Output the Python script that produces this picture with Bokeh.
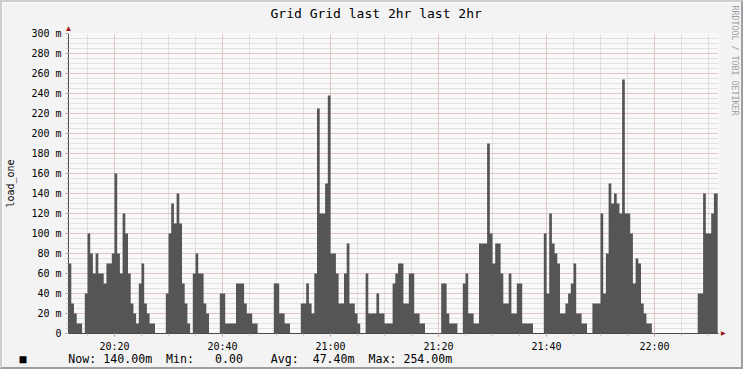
from bokeh.plotting import figure
from bokeh.models import Range1d, FixedTicker, Title
from bokeh.embed import file_html
from bokeh.resources import INLINE

# ---- data: load_one (milli-load), step starts in minutes after 20:00 ----
step_start = [
    11.5, 12.0, 12.5, 13.0, 14.0, 14.5, 15.0, 15.5, 16.0, 16.5, 17.0, 18.0, 18.5, 19.5,
    20.0, 20.5, 21.0, 21.5, 22.0, 22.5, 23.0, 23.5, 24.0, 24.5, 25.0, 25.5, 26.0, 26.5, 27.5,
    29.5, 30.0, 30.5, 31.0, 31.5, 32.0, 32.5, 33.0, 33.5, 34.0, 34.5, 35.0, 35.5, 36.5, 37.0, 37.5,
    39.5, 40.5, 42.5, 44.0, 44.5, 45.5, 46.5,
    49.5, 50.5, 51.5, 52.5,
    54.5, 55.5, 56.0, 56.5, 57.0, 57.5, 58.0, 59.0, 59.5, 60.0, 61.0, 61.5, 62.5, 63.0, 63.5,
    64.5, 65.0, 65.5,
    66.5, 67.0, 68.5, 69.0, 70.0, 71.5, 72.0, 72.5, 73.5, 74.5, 75.5, 76.5, 77.5,
    80.5, 81.5, 82.0, 83.5,
    84.5, 85.0, 85.5, 86.5, 87.5, 89.0, 89.5, 90.0, 90.5, 91.5, 92.0, 93.0, 93.5, 94.5, 95.5, 97.5,
    99.5, 100.0, 100.5, 101.0, 101.5, 102.0, 102.5, 103.5, 104.0, 104.5, 105.0, 105.5, 106.5, 107.5,
    108.5, 110.0, 110.5, 111.0, 111.5, 112.0, 112.5, 113.0, 113.5, 114.0, 114.5, 115.5, 116.0,
    116.5, 117.0, 117.5, 118.0, 118.5, 119.5,
    128.0, 129.0, 129.5, 130.5, 131.0,
]
load_m = [
    70, 30, 20, 10, 0, 40, 100, 80, 60, 80, 60, 50, 70, 80,
    160, 80, 60, 120, 100, 60, 30, 20, 10, 50, 70, 30, 20, 10, 0,
    40, 100, 130, 110, 140, 110, 50, 30, 10, 0, 60, 80, 60, 30, 20, 0,
    40, 10, 50, 30, 20, 10, 0,
    50, 20, 10, 0,
    30, 50, 30, 20, 60, 225, 120, 150, 238, 80, 60, 30, 60, 90, 30,
    20, 10, 0,
    60, 20, 40, 20, 10, 50, 60, 70, 30, 60, 20, 10, 0,
    50, 20, 10, 0,
    50, 60, 20, 10, 90, 190, 100, 70, 90, 60, 30, 60, 20, 50, 10, 0,
    100, 40, 120, 90, 80, 70, 20, 30, 40, 50, 70, 20, 10, 0,
    30, 120, 40, 80, 150, 130, 140, 130, 120, 254, 120, 100, 50,
    75, 70, 30, 20, 10, 0,
    40, 140, 100, 120, 140,
]
end_minute = 131.7

x_tick_minutes = [20, 40, 60, 80, 100, 120]
x_tick_labels = ["20:20", "20:40", "21:00", "21:20", "21:40", "22:00"]
x_minor_minutes = list(range(15, 131, 5))
y_tick_values = list(range(0, 301, 20))
y_tick_labels = ["0"] + [f"{v} m" for v in range(20, 301, 20)]
y_minor_values = list(range(0, 301, 5))

title_text = "Grid Grid last 2hr last 2hr"
y_label = "load_one"
legend_parts = ["■", "", "", "", "", "", "Now:", "140.00m", "", "Min:", "", "", "0.00", "", "", "",
                "Avg:", "", "47.40m", "", "Max:", "254.00m"]
watermark = "RRDTOOL / TOBI OETIKER"
NBSP = "\u00a0"
legend_text = NBSP.join(legend_parts)

# ---- layout ----
W, H = 743, 369           # canvas; a 2px CSS frame surrounds it -> 747 x 373
FL, FR, FT, FB = 65, 716, 31, 331
X0, X1 = 11.48, 131.85
MONO = "DejaVu Sans Mono"
BG = "#F3F3F3"

p = figure(width=W, height=H, output_backend="svg", toolbar_location=None,
           x_range=Range1d(X0, X1), y_range=Range1d(0, 300),
           min_border_left=FL, min_border_right=W - FR,
           min_border_top=FT, min_border_bottom=H - FB)
p.styles = {"border-top": "2px solid #CFCFCF", "border-left": "2px solid #CFCFCF",
            "border-bottom": "2px solid #9E9E9E", "border-right": "2px solid #9E9E9E"}
p.background_fill_color = "#F9F9F9"
p.border_fill_color = BG
p.outline_line_color = None

# step outline as one polygon (each sample held until the next one starts)
ends = step_start[1:] + [end_minute]
area_x, area_y = [], []
for t0, t1, v in zip(step_start, ends, load_m):
    area_x += [t0, t1]
    area_y += [v, v]
p.varea(x=area_x, y1=[0] * len(area_x), y2=area_y, fill_color="#555555")

# axes
p.xaxis.ticker = FixedTicker(ticks=x_tick_minutes, minor_ticks=x_minor_minutes)
p.xaxis.major_label_overrides = {t: l for t, l in zip(x_tick_minutes, x_tick_labels)}
p.yaxis.ticker = FixedTicker(ticks=y_tick_values, minor_ticks=y_minor_values)
p.yaxis.major_label_overrides = {t: l for t, l in zip(y_tick_values, y_tick_labels)}
for ax in (p.xaxis[0], p.yaxis[0]):
    ax.axis_line_color = "#4A4A4A"
    ax.major_tick_line_color = "#D08080"
    ax.minor_tick_line_color = "#B8B8B8"
    ax.major_tick_in = 0
    ax.major_tick_out = 3
    ax.minor_tick_in = 0
    ax.minor_tick_out = 2
    ax.major_label_text_font = MONO
    ax.major_label_text_font_size = "10px"
    ax.major_label_text_color = "#000000"
    ax.major_label_standoff = 4
p.yaxis.axis_label = y_label
p.yaxis.axis_label_text_font = MONO
p.yaxis.axis_label_text_font_size = "10px"
p.yaxis.axis_label_text_font_style = "normal"
p.yaxis.axis_label_text_color = "#000000"
p.yaxis.axis_label_standoff = 12

for g in (p.xgrid[0], p.ygrid[0]):
    g.grid_line_color = "#E2A8A8"
    g.grid_line_dash = "1 1"
    g.minor_grid_line_color = "#C8C8C8"
    g.minor_grid_line_dash = "1 1"

# title (left aligned with offset so it sits centred on the canvas)
p.title.text = title_text
p.title.align = "left"
p.title.offset = 202
p.title.text_font = MONO
p.title.text_font_size = "13px"
p.title.text_font_style = "normal"
p.title.text_color = "#000000"
p.title.standoff = 2

# arrow heads of the axes
p.add_layout(Title(text="▲", align="left", offset=-4, standoff=1, text_font_size="8px",
                   text_color="#A01010", text_font_style="normal"), "above")
p.add_layout(Title(text="▲", align="right", offset=-4, standoff=0, text_font_size="8px",
                   text_color="#A01010", text_font_style="normal"), "right")
# watermark
p.add_layout(Title(text=watermark, align="left", offset=-28, standoff=0, text_font=MONO,
                   text_font_size="8.3px", text_color="#A0A0A0", text_font_style="normal"),
             "right")

# legend row
p.add_layout(Title(text=legend_text, align="left", offset=-49, standoff=-10, text_font=MONO,
                   text_font_size="11.6px", text_color="#000000", text_font_style="normal"),
             "below")

open("out.html", "w").write(file_html(p, INLINE))
